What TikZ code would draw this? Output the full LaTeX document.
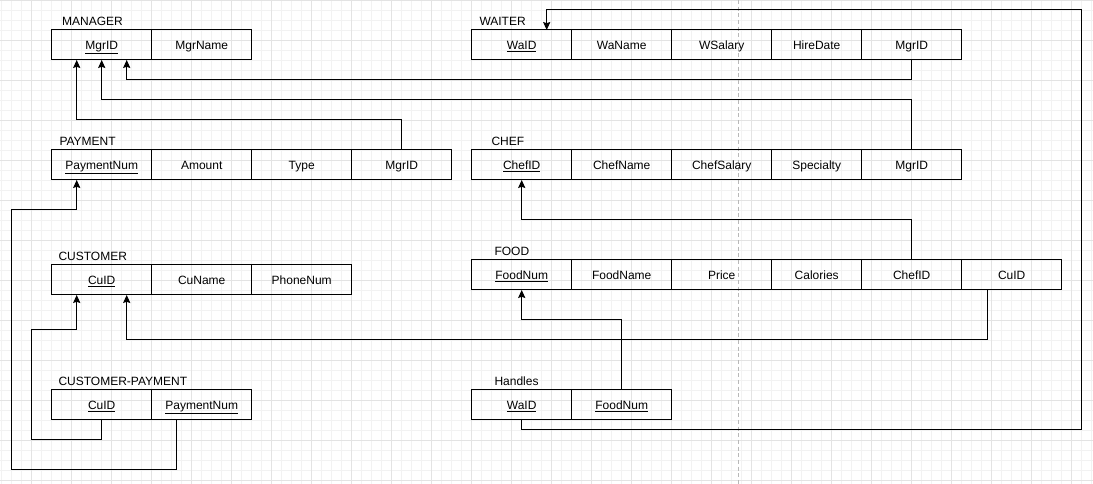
\documentclass[tikz,border=0pt]{standalone}
\usepackage{fontspec}
\setmainfont{Liberation Sans}
\usetikzlibrary{positioning,calc,arrows.meta}

\tikzset{every picture/.style={line width=0.75pt}}
\tikzset{
  cell/.style={draw, rectangle, minimum width=75pt, minimum height=22.5pt, inner sep=0pt, outer sep=0pt, text height=7.4pt, text depth=1pt, font=\fontsize{9pt}{11pt}\selectfont},
  cellnarrow/.style={cell, minimum width=67.5pt},
  tabletitle/.style={anchor=west, inner sep=0pt, font=\fontsize{9pt}{11pt}\selectfont},
  fk/.style={-{Stealth[length=6pt,width=5.4pt,inset=0.9pt]}},
  gridminor/.style={draw=black!5, line width=0.75pt},
  gridmajor/.style={draw=black!11, line width=0.75pt},
}

\begin{document}
\begin{tikzpicture}[x=0.75pt,y=0.75pt,yscale=-1,xscale=1]
\useasboundingbox (0,0) rectangle (1093,484);
\fill[white] (0,0) rectangle (1093,484);

%Grid
\foreach \gx in {1.7,11.7,...,1091.7} \draw[gridminor] (\gx,0) -- (\gx,484);
\foreach \gy in {0.7,10.7,...,480.7} \draw[gridminor] (0,\gy) -- (1093,\gy);
\foreach \gx in {31.7,71.7,...,1071.7} \draw[gridmajor] (\gx,0) -- (\gx,484);
\foreach \gy in {0.7,40.7,...,480.7} \draw[gridmajor] (0,\gy) -- (1093,\gy);
%Page break
\draw[black!28, dash pattern=on 3pt off 2pt] (738.3,0) -- (738.3,484);

% MANAGER
\node[tabletitle] (mgT) at (61.7,21) {MANAGER};
\node[cell, anchor=north west] (mgID) at (51.7,30) {\underline{MgrID}};
\node[cell, right=0pt of mgID] (mgName) {MgrName};

% WAITER
\node[tabletitle] (waT) at (479,21) {WAITER};
\node[cell, anchor=north west] (waID) at (471.7,30) {\underline{WaID}};
\node[cell, right=0pt of waID] (waName) {WaName};
\node[cell, right=0pt of waName] (waSal) {WSalary};
\node[cellnarrow, right=0pt of waSal] (waHire) {HireDate};
\node[cell, right=0pt of waHire] (waMgr) {MgrID};

% PAYMENT
\node[tabletitle] (pyT) at (59,141) {PAYMENT};
\node[cell, anchor=north west] (pyNum) at (51.7,150) {\underline{PaymentNum}};
\node[cell, right=0pt of pyNum] (pyAmt) {Amount};
\node[cell, right=0pt of pyAmt] (pyType) {Type};
\node[cell, right=0pt of pyType] (pyMgr) {MgrID};

% CHEF
\node[tabletitle] (chT) at (491,141) {CHEF};
\node[cell, anchor=north west] (chID) at (471.7,150) {\underline{ChefID}};
\node[cell, right=0pt of chID] (chName) {ChefName};
\node[cell, right=0pt of chName] (chSal) {ChefSalary};
\node[cellnarrow, right=0pt of chSal] (chSpec) {Specialty};
\node[cell, right=0pt of chSpec] (chMgr) {MgrID};

% CUSTOMER
\node[tabletitle] (cuT) at (58,256) {CUSTOMER};
\node[cell, anchor=north west] (cuID) at (51.7,265) {\underline{CuID}};
\node[cell, right=0pt of cuID] (cuName) {CuName};
\node[cell, right=0pt of cuName] (cuPhone) {PhoneNum};

% FOOD
\node[tabletitle] (fdT) at (494,251) {FOOD};
\node[cell, anchor=north west] (fdNum) at (471.7,260) {\underline{FoodNum}};
\node[cell, right=0pt of fdNum] (fdName) {FoodName};
\node[cell, right=0pt of fdName] (fdPrice) {Price};
\node[cellnarrow, right=0pt of fdPrice] (fdCal) {Calories};
\node[cell, right=0pt of fdCal] (fdChef) {ChefID};
\node[cell, right=0pt of fdChef] (fdCu) {CuID};

% CUSTOMER-PAYMENT
\node[tabletitle] (cpT) at (58,381) {CUSTOMER-PAYMENT};
\node[cell, anchor=north west] (cpCu) at (51.7,390) {\underline{CuID}};
\node[cell, right=0pt of cpCu] (cpPay) {\underline{PaymentNum}};

% Handles
\node[tabletitle] (hdT) at (494,381) {Handles};
\node[cell, anchor=north west] (hdWa) at (471.7,390) {\underline{WaID}};
\node[cell, right=0pt of hdWa] (hdFood) {\underline{FoodNum}};

% Connectors
\coordinate (wrapR) at (1081.5,10);
\coordinate (loopA) at (31.7,330);
\coordinate (loopB) at (11.7,210);

\draw[fk] (waMgr.south) -- ++(0,20) -| ($(mgID.south)+(25,0)$);
\draw[fk] (chMgr.north) -- ++(0,-50) -| (mgID.south);
\draw[fk] (pyMgr.north) -- ++(0,-30) -| ($(mgID.south)+(-25,0)$);
\draw[fk] (fdChef.north) -- ++(0,-40) -| (chID.south);
\draw[fk] ($(fdCu.south)+(-24,0)$) -- ++(0,50) -| ($(cuID.south)+(25,0)$);
\draw[fk] (hdFood.north) -- ++(0,-70) -| (fdNum.south);
\draw[fk] (hdWa.south) -- ++(0,10) -| (wrapR) -| ($(waID.north)+(25,0)$);
\draw[fk] (cpCu.south) -- ++(0,20) -| (loopA) -| ($(cuID.south)+(-25,0)$);
\draw[fk] ($(cpPay.south)+(-25,0)$) -- ++(0,50) -| (loopB) -| ($(pyNum.south)+(-25,0)$);

\end{tikzpicture}
\end{document}
